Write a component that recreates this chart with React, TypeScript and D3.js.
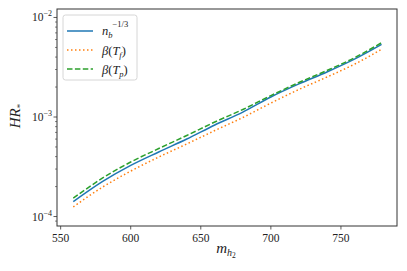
import React from "react";
import * as d3 from "d3";

const massX = [559, 580, 600, 620, 640, 660, 680, 700, 720, 740, 760, 779];
const nbSeries = [1.41e-4, 2.25e-4, 3.26e-4, 4.45e-4, 6.01e-4, 8.32e-4, 1.12e-3, 1.59e-3, 2.15e-3, 2.83e-3, 3.83e-3, 5.36e-3];
const betaTfSeries = [1.25e-4, 1.98e-4, 2.86e-4, 3.96e-4, 5.36e-4, 7.31e-4, 9.89e-4, 1.38e-3, 1.89e-3, 2.52e-3, 3.41e-3, 4.79e-3];
const betaTpSeries = [1.53e-4, 2.44e-4, 3.53e-4, 4.82e-4, 6.52e-4, 8.91e-4, 1.19e-3, 1.64e-3, 2.22e-3, 2.93e-3, 3.96e-3, 5.58e-3];
const xTicks = [550, 600, 650, 700, 750];
const yMajorExp = [-4, -3, -2];

const W = 407, H = 271;
const L = 57, R = 397, T = 9, B = 226;
const FONT = "'Liberation Serif', 'DejaVu Serif', serif";

export default function App() {
  const x = d3.scaleLinear().domain([547.4, 790]).range([L, R]);
  const y = d3.scaleLog().domain([Math.pow(10, -4.095), Math.pow(10, -1.915)]).range([B, T]);
  const line = (vals: number[]) =>
    d3.line<number>().x((_, i) => x(massX[i])).y((d) => y(d)).curve(d3.curveMonotoneX)(vals) as string;

  const minor: number[] = [];
  for (const e of [-5, -4, -3, -2]) {
    for (let k = 2; k <= 9; k++) {
      const v = k * Math.pow(10, e);
      const py = y(v);
      if (py >= T && py <= B) minor.push(v);
    }
  }

  const series = [
    { vals: nbSeries, color: "#1f77b4", dash: "" },
    { vals: betaTfSeries, color: "#ff7f0e", dash: "1.5,2.5" },
    { vals: betaTpSeries, color: "#2ca02c", dash: "5.5,2.4" },
  ];

  return (
    <svg width={W} height={H} style={{ position: "absolute", left: 0, top: 0, background: "#fff" }} fontFamily={FONT}>
      <defs>
        <clipPath id="clip">
          <rect x={L} y={T} width={R - L} height={B - T} />
        </clipPath>
      </defs>
      <g clipPath="url(#clip)">
        {series.map((s, i) => (
          <path key={i} d={line(s.vals)} fill="none" stroke={s.color} strokeWidth={1.5} strokeDasharray={s.dash || undefined} />
        ))}
      </g>
      <rect x={L} y={T} width={R - L} height={B - T} fill="none" stroke="#333" strokeWidth={1} />
      {xTicks.map((t) => (
        <g key={t}>
          <line x1={x(t)} x2={x(t)} y1={B} y2={B + 3.5} stroke="#333" strokeWidth={0.8} />
          <text x={x(t)} y={B + 16} fontSize={11.5} textAnchor="middle" fill="#222">{t}</text>
        </g>
      ))}
      {yMajorExp.map((e) => {
        const py = y(Math.pow(10, e));
        return (
          <g key={e}>
            <line x1={L - 3.5} x2={L} y1={py} y2={py} stroke="#333" strokeWidth={0.8} />
            <text x={L - 5} y={py + 4} fontSize={11.5} textAnchor="end" fill="#222">
              10<tspan dy={-5} fontSize={8}>{"\u2212" + Math.abs(e)}</tspan>
            </text>
          </g>
        );
      })}
      {minor.map((v, i) => (
        <line key={i} x1={L - 2} x2={L} y1={y(v)} y2={y(v)} stroke="#333" strokeWidth={0.6} />
      ))}
      <text x={226} y={253} fontSize={15} textAnchor="middle" fontStyle="italic" fill="#222">
        m<tspan dy={3} fontSize={10}>h</tspan><tspan dy={2} fontSize={7.5} fontStyle="normal">2</tspan>
      </text>
      <text transform={`translate(20,116) rotate(-90)`} fontSize={15} textAnchor="middle" fontStyle="italic" fill="#222">
        HR<tspan dy={3} fontSize={9} fontStyle="normal">*</tspan>
      </text>
      <g>
        <rect x={63} y={15} width={74} height={65} rx={2.5} fill="#fff" fillOpacity={0.8} stroke="#ccc" strokeWidth={0.8} />
        {series.map((s, i) => {
          const ly = 31 + i * 19;
          return (
            <g key={i}>
              <line x1={67} x2={93} y1={ly} y2={ly} stroke={s.color} strokeWidth={1.5} strokeDasharray={s.dash || undefined} />
            </g>
          );
        })}
        <text x={102} y={35} fontSize={12.5} fontStyle="italic" fill="#222">
          n<tspan dy={3} fontSize={8.5}>b</tspan><tspan dy={-11} fontSize={8.5} fontStyle="normal">{"\u22121/3"}</tspan>
        </text>
        <text x={102} y={54.5} fontSize={12.5} fill="#222">
          <tspan fontStyle="italic">{"\u03B2"}</tspan>(<tspan fontStyle="italic">T</tspan><tspan dy={3} fontSize={8.5} fontStyle="italic">f</tspan><tspan dy={-3}>)</tspan>
        </text>
        <text x={102} y={73.5} fontSize={12.5} fill="#222">
          <tspan fontStyle="italic">{"\u03B2"}</tspan>(<tspan fontStyle="italic">T</tspan><tspan dy={3} fontSize={8.5} fontStyle="italic">p</tspan><tspan dy={-3}>)</tspan>
        </text>
      </g>
    </svg>
  );
}
